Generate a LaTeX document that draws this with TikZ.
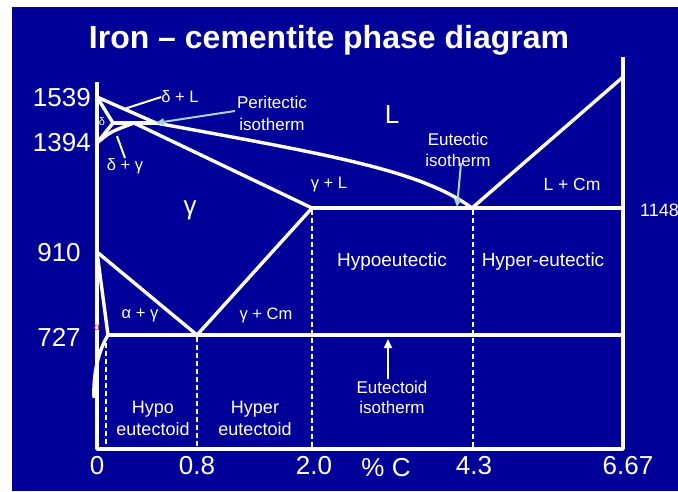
\documentclass[tikz,border=0pt]{standalone}
\usepackage{fontspec}
\setmainfont{Liberation Sans}
\usetikzlibrary{arrows.meta}
\definecolor{bg}{RGB}{0,0,153}
\definecolor{leadc}{RGB}{165,215,215}
\definecolor{alphared}{RGB}{230,30,60}
\begin{document}
\begin{tikzpicture}[x=1pt,y=-1pt,
  ln/.style={white,line width=3.4pt,line join=round},
  thin/.style={white,line width=2pt},
  dl/.style={white,line width=2.3pt,dash pattern=on 5pt off 3pt},
  lead/.style={leadc,line width=2pt,-{Triangle[length=8pt,width=7pt]}},
  lbl/.style={text=white,inner sep=0pt,align=center,font=\fontsize{18}{22}\selectfont},
  small/.style={text=white,inner sep=0pt,font=\fontsize{16.5}{19}\selectfont},
  axn/.style={text=white,inner sep=0pt,font=\fontsize{26}{30}\selectfont},
  big/.style={text=white,inner sep=0pt,font=\fontsize{26}{30}\selectfont}
]
\fill[white] (0,0) rectangle (678,491);
\useasboundingbox (0,0) rectangle (678,491);
\fill[bg] (12,7) rectangle (678,491);

% title
\node[text=white,inner sep=0pt,font=\bfseries\fontsize{32}{36}\selectfont] (title) at (329,40) {Iron – cementite phase diagram};

% key points
\coordinate (A) at (97,97);    % 1539
\coordinate (N) at (97,143);   % 1394
\coordinate (G) at (97,252);   % 910
\coordinate (Pd) at (113,123); % delta limit
\coordinate (Pj) at (134,123); % peritectic point
\coordinate (Pb) at (156,123); % liquid end of peritectic
\coordinate (E) at (312,208);  % gamma+L corner
\coordinate (C) at (472,208);  % eutectic
\coordinate (F) at (623,208);  % right end eutectic
\coordinate (S) at (197,335);  % eutectoid
\coordinate (Pa) at (108,335); % alpha limit
\coordinate (K) at (623,335);
\coordinate (Q) at (94,398);
\coordinate (O) at (97,449);
\coordinate (R) at (623,449);
\coordinate (Ltop) at (623,77);
\coordinate (AxTop) at (97,82);
\coordinate (RTop) at (623,57);

% axes
\draw[ln] (AxTop) -- (O) -- (R) -- (RTop);

% liquidus
\draw[ln] (A) -- (Pb) .. controls (330,155) and (420,170) .. (C);
\draw[ln] (Ltop) -- (C);
% solidus
\draw[ln] (Pj) -- (E);
% peritectic, delta region
\draw[ln] (Pd) -- (Pb);
\draw[ln] (A) -- (Pd) -- (N);
\draw[ln] (N) .. controls (110,132) .. (Pj);
% eutectic
\draw[ln] (E) -- (F);
% gamma region
\draw[ln] (E) -- (S);
\draw[ln] (G) -- (S);
\draw[ln] (G) -- (Pa);
\draw[ln] (Pa) .. controls (99,350) and (93,372) .. (Q);
% eutectoid
\draw[ln] (Pa) -- (K);

% dashed verticals
\draw[dl] (106,343) -- (106,447);
\draw[dl] (197,337) -- (197,447);
\draw[dl] (312,210) -- (312,447);
\draw[dl] (473,210) -- (473,447);

% axis numbers
\node[axn,anchor=east] (t1539) at (91,98) {1539};
\node[axn,anchor=east] (t1394) at (91,143) {1394};
\node[axn] (t910) at (59,253) {910};
\node[axn] (t727) at (59,337) {727};
\node[text=white,inner sep=0pt,font=\fontsize{18}{21}\selectfont,anchor=west] (t1148) at (640,210) {1148};
\node[axn] (x0) at (97,466) {0};
\node[axn] (x08) at (197,466) {0.8};
\node[axn] (x20) at (314,466) {2.0};
\node[axn] (xc) at (386,468) {\% C};
\node[axn] (x43) at (474,466) {4.3};
\node[axn] (x667) at (628,466) {6.67};

% region labels
\node[big] (Lr) at (392,115) {L};
\node[big] (gam) at (190,210) {γ};
\node[small] (gL) at (329,185) {γ + L};
\node[lbl,font=\fontsize{17.5}{20}\selectfont] (LCm) at (572,184) {L + Cm};
\node[lbl,font=\fontsize{19}{22}\selectfont] (hypo) at (392,262) {Hypoeutectic};
\node[lbl,font=\fontsize{19}{22}\selectfont] (hyper) at (543,262) {Hyper-eutectic};
\node[small] (ag) at (140,315) {α + γ};
\node[small] (gCm) at (266,315) {γ + Cm};
\node[lbl] (hypod) at (153,418) {Hypo\\eutectoid};
\node[lbl] (hyperd) at (255,418) {Hyper\\eutectoid};
\node[lbl,font=\fontsize{17}{20}\selectfont] (eutd) at (392,397) {Eutectoid\\isotherm};
\node[lbl,font=\fontsize{17}{21}\selectfont] (eutc) at (458,150) {Eutectic\\isotherm};
\node[lbl,font=\fontsize{17}{22}\selectfont] (peri) at (272,113) {Peritectic\\isotherm};
\node[small] (dL) at (180,97) {δ + L};
\node[small] (dg) at (125,166) {δ + γ};
\node[text=white,inner sep=0pt,font=\fontsize{11}{13}\selectfont] (dd) at (102,122) {δ};
\node[text=alphared,inner sep=0pt,font=\fontsize{10}{12}\selectfont] (al) at (97,328) {α};

% leaders
\draw[thin] (124,109) -- (dL.west);
\draw[thin] (117,136) -- (dg.north);
\draw[lead] (peri.west |- 0,111) ++(-2,0) coordinate (pl) -- (Pb);
\draw[lead] (461,163) -- (457,207);
\draw[white,line width=2.2pt,-{Triangle[length=9pt,width=8pt]}] (eutd.north -| 388,0) ++(0,-2) -- (388,339);
\end{tikzpicture}
\end{document}
